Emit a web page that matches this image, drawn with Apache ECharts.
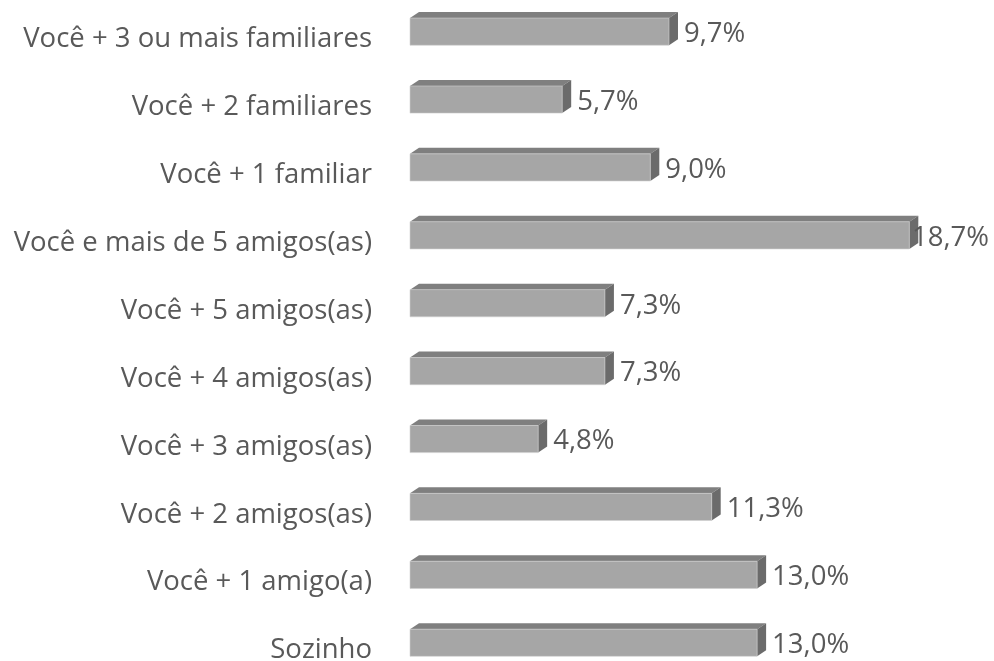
<!DOCTYPE html>
<html>
<head>
<meta charset="utf-8">
<script src="https://cdn.jsdelivr.net/npm/echarts@6/dist/echarts.min.js"></script>
<style>
  html, body { margin: 0; padding: 0; background: #ffffff; overflow: hidden; }
  #chart { width: 994px; height: 690px; }
</style>
</head>
<body>
<div id="chart"></div>
<script>
// Categories from top to bottom
const categories = [
  'Você + 3 ou mais familiares',
  'Você + 2 familiares',
  'Você + 1 familiar',
  'Você e mais de 5 amigos(as)',
  'Você + 5 amigos(as)',
  'Você + 4 amigos(as)',
  'Você + 3 amigos(as)',
  'Você + 2 amigos(as)',
  'Você + 1 amigo(a)',
  'Sozinho'
];
// Share of respondents (%)
const shares = [9.7, 5.7, 9.0, 18.7, 7.3, 7.3, 4.8, 11.3, 13.0, 13.0];

const FONT = '"Open Sans", sans-serif';
const FONT_SIZE = 27.5;
const TEXT_COLOR = '#595959';

function fmtPct(v) {
  return v.toFixed(1).replace('.', ',') + '%';
}

// Draws a bar as a front face plus a top and a right face for a 3D look
function renderBar(params, api) {
  const v = api.value(0);
  const cat = api.value(1);
  const p0 = api.coord([0, cat]);
  const p1 = api.coord([v, cat]);
  const band = api.size([0, 1])[1];
  const h = band * 0.40;
  const dx = 9, dy = 6;
  const cy = p0[1] - band * 0.115;
  const x0 = p0[0], x1 = p1[0];
  const yT = cy - h / 2, yB = cy + h / 2;
  const labelX = Math.min(x1 + 15, 912);
  return {
    type: 'group',
    children: [
      {
        type: 'polygon',
        shape: { points: [[x0, yT], [x0 + dx, yT - dy], [x1 + dx, yT - dy], [x1, yT]] },
        style: { fill: '#7f7f7f' }
      },
      {
        type: 'polygon',
        shape: { points: [[x1, yT], [x1 + dx, yT - dy], [x1 + dx, yB - dy], [x1, yB]] },
        style: { fill: '#6b6b6b' }
      },
      {
        type: 'rect',
        shape: { x: x0, y: yT, width: x1 - x0, height: h },
        style: { fill: '#a6a6a6', stroke: '#d0d0d0', lineWidth: 0.6 }
      },
      {
        type: 'text',
        x: labelX,
        y: cy + 2.5,
        style: {
          text: fmtPct(v),
          fill: TEXT_COLOR,
          font: FONT_SIZE + 'px ' + FONT,
          align: 'left',
          verticalAlign: 'middle'
        }
      }
    ]
  };
}

const chart = echarts.init(document.getElementById('chart'), null, { renderer: 'canvas' });
chart.setOption({
  backgroundColor: '#ffffff',
  animation: false,
  grid: { left: 410, top: 5.5, width: 534, height: 679, containLabel: false },
  xAxis: {
    type: 'value',
    min: 0,
    max: 20,
    show: false
  },
  yAxis: {
    type: 'category',
    data: categories,
    inverse: true,
    axisLine: { show: false },
    axisTick: { show: false },
    axisLabel: {
      margin: 38,
      color: TEXT_COLOR,
      fontSize: FONT_SIZE,
      fontFamily: FONT
    }
  },
  series: [{
    type: 'custom',
    renderItem: renderBar,
    encode: { x: 0, y: 1 },
    data: shares.map((v, i) => [v, i]),
    clip: false
  }]
});
</script>
</body>
</html>
